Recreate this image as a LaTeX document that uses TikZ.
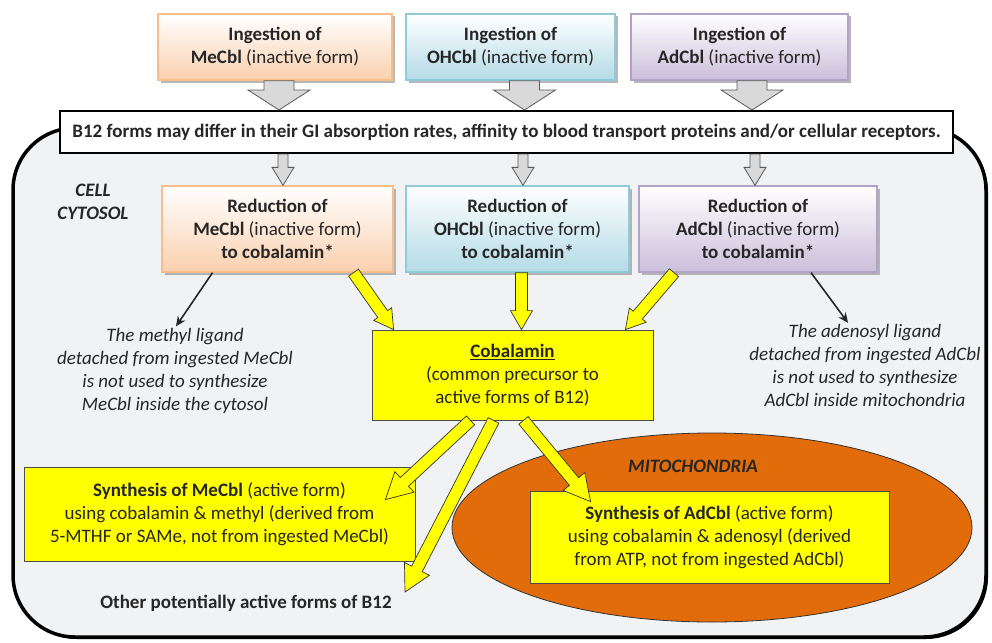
\documentclass[tikz,border=0pt]{standalone}
\usepackage{fontspec}
\setmainfont{Carlito}
\usetikzlibrary{calc,shadows,shapes.geometric,arrows.meta}

\definecolor{meline}{HTML}{F7BE8C}
\definecolor{mefill}{HTML}{FAD0AE}
\definecolor{ohline}{HTML}{8FCBDB}
\definecolor{ohfill}{HTML}{B3DBE6}
\definecolor{adline}{HTML}{B3A2C8}
\definecolor{adfill}{HTML}{CBBEDA}
\definecolor{cellgray}{HTML}{F1F2F4}
\definecolor{cblyellow}{HTML}{FFFF00}
\definecolor{mitoorange}{HTML}{E36C0A}
\definecolor{inkgray}{HTML}{262626}

% block arrow: style, from, to, shaft half width, head half width, head length
\newcommand{\blockarrow}[6]{%
  \coordinate (ba-h) at ($(#3)!#6!(#2)$);
  \draw[#1] ($(#2)!#4!90:(#3)$) -- ($(ba-h)!#4!90:(#3)$) -- ($(ba-h)!#5!90:(#3)$) -- (#3)
    -- ($(ba-h)!#5!-90:(#3)$) -- ($(ba-h)!#4!-90:(#3)$) -- ($(#2)!#4!-90:(#3)$) -- cycle;}

\begin{document}
\begin{tikzpicture}[x=1pt,y=-1pt,
    txt/.style={font=\fontsize{19}{22.8}\selectfont, text=inkgray, align=center},
    formbox/.style={txt, draw=#1line, line width=1.3pt, top color=white, bottom color=#1fill,
        drop shadow={shadow xshift=2.5pt, shadow yshift=-2.5pt, fill=black!40, opacity=0.7},
        inner sep=0pt},
    yellowbox/.style={txt, draw=black!70, line width=0.8pt, fill=cblyellow, inner sep=0pt},
    grayarrow/.style={draw=black!65, line width=0.8pt, fill=black!15, line join=miter},
    yarrow/.style={draw=black!80, line width=0.7pt, fill=cblyellow, line join=miter},
    ligand/.style={-{Stealth[length=10pt,width=9pt]}, line width=1.6pt, draw=inkgray},
    note/.style={txt, font=\fontsize{19}{23}\selectfont\itshape}]
  \useasboundingbox (0,0) rectangle (992,642);

  % cell
  \draw[fill=cellgray, line width=3.5pt, rounded corners=62pt,
        drop shadow={shadow xshift=2pt, shadow yshift=-2pt, fill=black, opacity=1}]
        (13,128) rectangle (986,637);
  \node[txt, font=\fontsize{19}{22.8}\selectfont\bfseries\itshape] (cytosol) at (93,202) {CELL\\CYTOSOL};

  % mitochondria
  \node[ellipse, draw=black!80, line width=0.8pt, fill=mitoorange, minimum width=520pt,
        minimum height=189pt, inner sep=0pt] (mito) at (712,527.5) {};
  \node[txt, font=\fontsize{19}{22.8}\selectfont\bfseries\itshape] (mitolabel) at (693,466) {MITOCHONDRIA};

  % ingestion
  \node[formbox=me, minimum width=234pt, minimum height=66pt] (ingme) at (275,47)
    {\textbf{Ingestion of}\\\textbf{MeCbl} (inactive form)};
  \node[formbox=oh, minimum width=209pt, minimum height=66pt] (ingoh) at (510.5,47)
    {\textbf{Ingestion of}\\\textbf{OHCbl} (inactive form)};
  \node[formbox=ad, minimum width=217pt, minimum height=66pt] (ingad) at (739.5,47)
    {\textbf{Ingestion of}\\\textbf{AdCbl} (inactive form)};

  % absorption
  \node[txt, draw=black, line width=2pt, fill=white, minimum width=893pt, minimum height=42pt,
        inner sep=0pt, font=\fontsize{19}{22.8}\selectfont\bfseries] (banner) at (506.5,132)
    {B12 forms may differ in their GI absorption rates, affinity to blood transport proteins and/or cellular receptors.};

  \blockarrow{grayarrow}{[xshift=4pt]ingme.south}{[xshift=4pt]ingme.south |- banner.north}{15pt}{31pt}{20pt}
  \blockarrow{grayarrow}{[xshift=14pt]ingoh.south}{[xshift=14pt]ingoh.south |- banner.north}{15pt}{31pt}{20pt}
  \blockarrow{grayarrow}{[xshift=12.5pt]ingad.south}{[xshift=12.5pt]ingad.south |- banner.north}{15pt}{31pt}{20pt}

  % reduction
  \node[formbox=me, minimum width=231pt, minimum height=86pt] (redme) at (277.5,229)
    {\textbf{Reduction of}\\\textbf{MeCbl} (inactive form)\\\textbf{to cobalamin*}};
  \node[formbox=oh, minimum width=223pt, minimum height=86pt] (redoh) at (517.5,229)
    {\textbf{Reduction of}\\\textbf{OHCbl} (inactive form)\\\textbf{to cobalamin*}};
  \node[formbox=ad, minimum width=238pt, minimum height=86pt] (redad) at (758,229)
    {\textbf{Reduction of}\\\textbf{AdCbl} (inactive form)\\\textbf{to cobalamin*}};

  \blockarrow{grayarrow}{[xshift=5.5pt]redme.north |- banner.south}{[xshift=5.5pt]redme.north}{5pt}{11pt}{18pt}
  \blockarrow{grayarrow}{[xshift=5.5pt]redoh.north |- banner.south}{[xshift=5.5pt]redoh.north}{5pt}{11pt}{18pt}
  \blockarrow{grayarrow}{[xshift=-3pt]redad.north |- banner.south}{[xshift=-3pt]redad.north}{5pt}{11pt}{18pt}

  % ligands
  \node[note] (methyl) at (175,370.5)
    {The methyl ligand\\detached from ingested MeCbl\\is not used to synthesize\\MeCbl inside the cytosol};
  \node[note] (adenosyl) at (865,365.5)
    {The adenosyl ligand\\detached from ingested AdCbl\\is not used to synthesize\\AdCbl inside mitochondria};
  \draw[ligand] ([xshift=-65pt]redme.south) -- ([xshift=1pt,yshift=-2pt]methyl.north);
  \draw[ligand] ([xshift=53pt]redad.south) -- ([xshift=-17pt,yshift=-2pt]adenosyl.north);

  % cobalamin and active forms
  \node[yellowbox, minimum width=281pt, minimum height=90pt] (cob) at (512.5,375)
    {\textbf{\underline{Cobalamin}}\\(common precursor to\\active forms of B12)};
  \node[yellowbox, minimum width=391pt, minimum height=94pt] (synme) at (219.5,514)
    {\textbf{Synthesis of MeCbl} (active form)\\using cobalamin \& methyl (derived from\\5-MTHF or SAMe, not from ingested MeCbl)};
  \node[yellowbox, minimum width=359pt, minimum height=92pt] (synad) at (709.5,537)
    {\textbf{Synthesis of AdCbl} (active form)\\using cobalamin \& adenosyl (derived\\from ATP, not from ingested AdCbl)};
  \node[txt, font=\fontsize{19}{22.8}\selectfont\bfseries] (other) at (246,603) {Other potentially active forms of B12};

  \blockarrow{yarrow}{[xshift=76pt]redme.south}{[xshift=22pt]cob.north west}{6pt}{11pt}{19pt}
  \blockarrow{yarrow}{[xshift=4pt]redoh.south}{[xshift=4pt]redoh.south |- cob.north}{6pt}{11pt}{19pt}
  \blockarrow{yarrow}{[xshift=-84pt]redad.south}{[xshift=-28pt]cob.north east}{6pt}{11pt}{19pt}

  \blockarrow{yarrow}{[xshift=-42pt]cob.south}{[xshift=-30pt,yshift=-33pt]synme.north east}{6pt}{14pt}{26pt}
  \blockarrow{yarrow}{[xshift=-19pt]cob.south}{[xshift=159pt,yshift=11pt]other.center}{6pt}{14pt}{26pt}
  \blockarrow{yarrow}{[xshift=11pt]cob.south}{[xshift=61pt,yshift=-11pt]synad.north west}{6pt}{14pt}{26pt}
\end{tikzpicture}
\end{document}
